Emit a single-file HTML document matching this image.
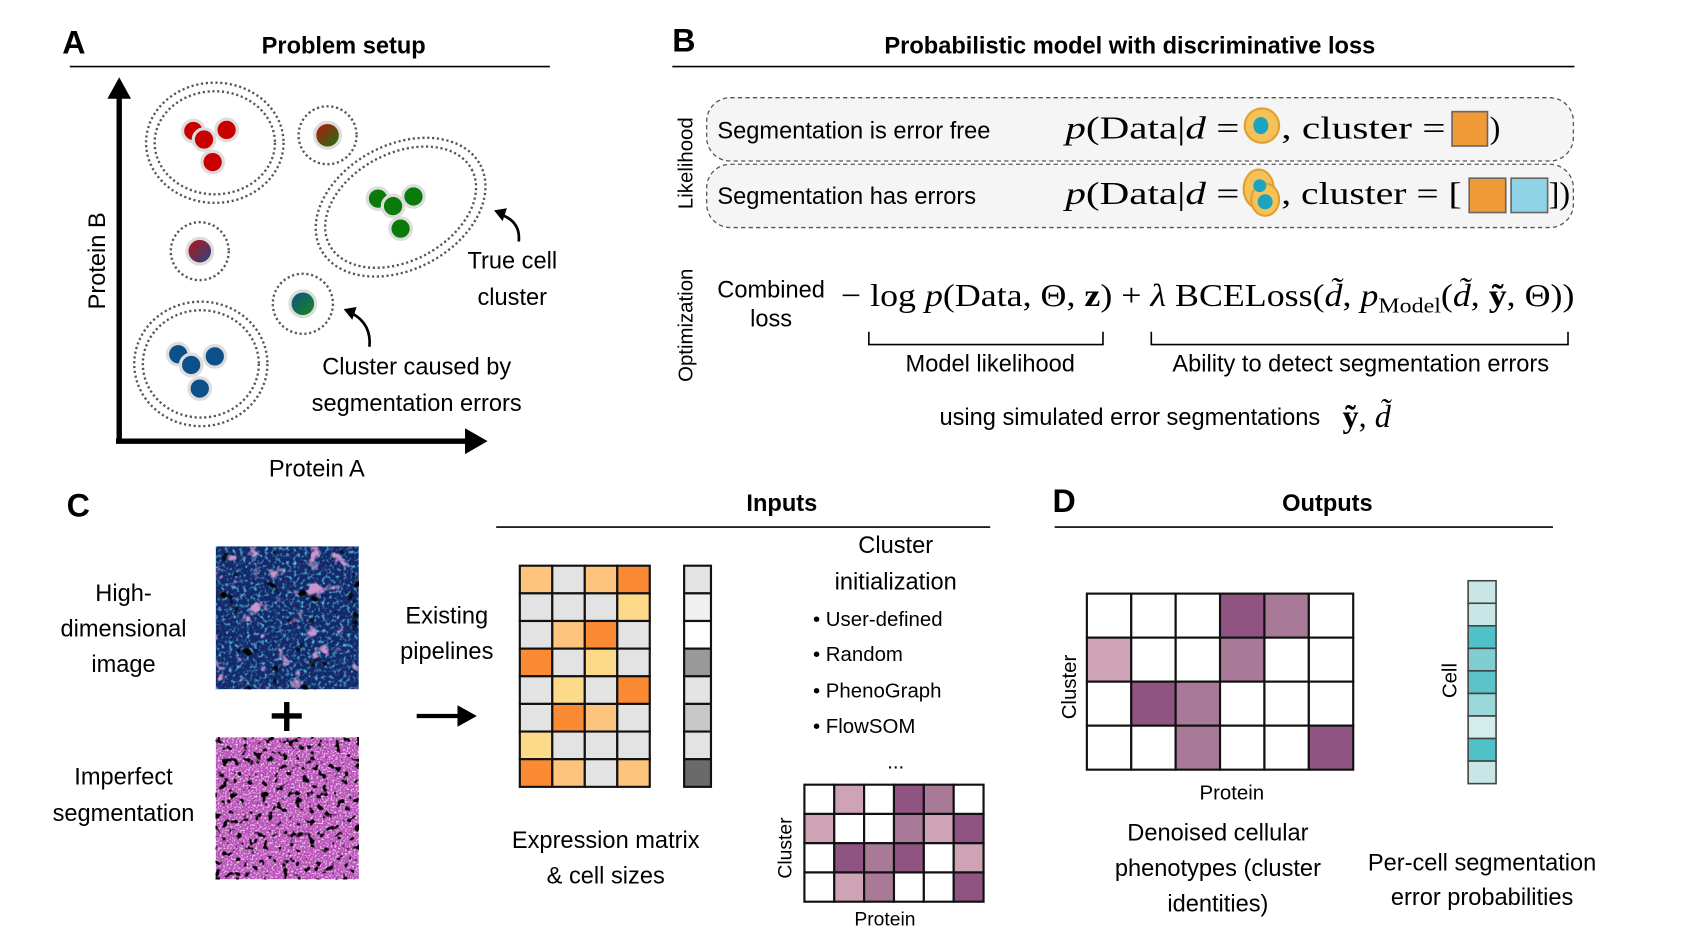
<!DOCTYPE html>
<html><head><meta charset="utf-8"><style>
html,body{margin:0;padding:0;background:#fff;}
svg{display:block;}
text{font-family:"Liberation Sans",sans-serif;fill:#000;}
.t{font-size:22px;}
.b{font-size:22px;font-weight:bold;}
.L{font-size:30px;font-weight:bold;}
.m{font-family:"Liberation Serif",serif;font-size:30px;}
</style></head><body>
<svg width="1684" height="950" viewBox="0 0 1568 885" preserveAspectRatio="none" xmlns="http://www.w3.org/2000/svg">
<defs>
<filter id="blk" x="0" y="0" width="1" height="1">
<feTurbulence type="fractalNoise" baseFrequency="0.16" numOctaves="2" seed="5"/>
<feColorMatrix values="0 0 0 0 0  0 0 0 0 0  0 0 0 0 0  9 0 0 0 -5.3"/>
</filter>
<filter id="spk" x="0" y="0" width="1" height="1">
<feTurbulence type="fractalNoise" baseFrequency="0.6" numOctaves="1" seed="2"/>
<feColorMatrix values="0 0 0 0 1  0 0 0 0 0.85  0 0 0 0 1  3 0 0 0 -1.4"/>
</filter>
<filter id="teal" x="0" y="0" width="1" height="1">
<feTurbulence type="fractalNoise" baseFrequency="0.3" numOctaves="2" seed="9"/>
<feColorMatrix values="0 0 0 0 0.1  0 0 0 0 0.6  0 0 0 0 0.8  3 0 0 0 -1.5"/>
</filter>
<filter id="purp" x="0" y="0" width="1" height="1">
<feTurbulence type="fractalNoise" baseFrequency="0.07" numOctaves="3" seed="13"/>
<feColorMatrix values="0 0 0 0 0.6  0 0 0 0 0.3  0 0 0 0 0.6  0 8 0 0 -5"/>
</filter>
<filter id="blk2" x="0" y="0" width="1" height="1">
<feTurbulence type="fractalNoise" baseFrequency="0.08" numOctaves="2" seed="21"/>
<feColorMatrix values="0 0 0 0 0  0 0 0 0 0  0 0 0 0 0  10 0 0 0 -6.8"/>
</filter>
<linearGradient id="gRG" x1="0" y1="0" x2="1" y2="1"><stop offset="0" stop-color="#c01010"/><stop offset="1" stop-color="#107a10"/></linearGradient>
<linearGradient id="gRB" x1="0" y1="0" x2="1" y2="1"><stop offset="0" stop-color="#c01010"/><stop offset="1" stop-color="#1a4a8a"/></linearGradient>
<linearGradient id="gBG" x1="0" y1="0" x2="1" y2="1"><stop offset="0" stop-color="#0d4f8a"/><stop offset="1" stop-color="#1a8a1a"/></linearGradient>
</defs>

<!-- A -->
<text x="58" y="50" class="L">A</text>
<text x="320" y="50" class="b" text-anchor="middle">Problem setup</text>
<line x1="65" y1="62" x2="512" y2="62" stroke="#000" stroke-width="1.5"/>
<line x1="111" y1="412" x2="111" y2="90" stroke="#000" stroke-width="5"/>
<polygon points="111,72 100,92 122,92" fill="#000"/>
<line x1="108" y1="411" x2="435" y2="411" stroke="#000" stroke-width="5"/>
<polygon points="454,411 433,399 433,423" fill="#000"/>
<text x="98" y="243" class="t" text-anchor="middle" transform="rotate(-90 98 243)">Protein B</text>
<text x="295" y="444" class="t" text-anchor="middle">Protein A</text>
<g fill="none" stroke="#555" stroke-width="2.2" stroke-dasharray="2 2.5">
<ellipse cx="200" cy="133" rx="64" ry="56"/><ellipse cx="200" cy="133" rx="56" ry="48"/>
<ellipse cx="187" cy="339" rx="62" ry="58"/><ellipse cx="187" cy="339" rx="54" ry="50"/>
<ellipse cx="373" cy="193" rx="84" ry="58" transform="rotate(-28 373 193)"/><ellipse cx="373" cy="193" rx="75" ry="50" transform="rotate(-28 373 193)"/>
<circle cx="305" cy="126" r="27"/><circle cx="186" cy="234" r="27"/><circle cx="282" cy="283" r="28"/>
</g>
<g stroke="#ddd" stroke-width="3">
<circle cx="180" cy="122" r="10" fill="#c80000"/><circle cx="211" cy="121" r="10" fill="#c80000"/><circle cx="190" cy="130" r="10" fill="#c80000"/><circle cx="198" cy="151" r="10" fill="#c80000"/>
<circle cx="352" cy="185" r="10" fill="#0a7a0a"/><circle cx="385" cy="183" r="10" fill="#0a7a0a"/><circle cx="366" cy="192" r="10" fill="#0a7a0a"/><circle cx="373" cy="213" r="10" fill="#0a7a0a"/>
<circle cx="166" cy="330" r="10" fill="#0d4f8a"/><circle cx="200" cy="332" r="10" fill="#0d4f8a"/><circle cx="178" cy="340" r="10" fill="#0d4f8a"/><circle cx="186" cy="362" r="10" fill="#0d4f8a"/>
<circle cx="305" cy="126" r="12" fill="url(#gRG)"/><circle cx="186" cy="234" r="12" fill="url(#gRB)"/><circle cx="282" cy="283" r="12" fill="url(#gBG)"/>
</g>
<path d="M483,225 Q485,207 467,200" fill="none" stroke="#000" stroke-width="2.5"/><polygon points="460,196 472,194 468,206" fill="#000"/>
<path d="M344,323 Q346,302 328,292" fill="none" stroke="#000" stroke-width="2.5"/><polygon points="320,288 332,286 328,298" fill="#000"/>
<text x="477" y="250" class="t" text-anchor="middle">True cell</text>
<text x="477" y="284" class="t" text-anchor="middle">cluster</text>
<text x="388" y="349" class="t" text-anchor="middle">Cluster caused by</text>
<text x="388" y="383" class="t" text-anchor="middle">segmentation errors</text>

<!-- B -->
<text x="626" y="48" class="L">B</text>
<text x="1052" y="50" class="b" text-anchor="middle">Probabilistic model with discriminative loss</text>
<line x1="626" y1="62" x2="1466" y2="62" stroke="#000" stroke-width="1.5"/>
<rect x="658" y="91" width="807" height="59" rx="22" fill="#f5f5f5" stroke="#555" stroke-width="1.2" stroke-dasharray="4 3"/>
<rect x="658" y="153" width="807" height="59" rx="22" fill="#f5f5f5" stroke="#555" stroke-width="1.2" stroke-dasharray="4 3"/>
<text x="645" y="152" class="t" text-anchor="middle" transform="rotate(-90 645 152)" style="font-size:19px">Likelihood</text>
<text x="645" y="303" class="t" text-anchor="middle" transform="rotate(-90 645 303)" style="font-size:19px">Optimization</text>
<text x="668" y="129" class="t">Segmentation is error free</text>
<text x="668" y="190" class="t">Segmentation has errors</text>
<text x="992" y="129" class="m" textLength="162" lengthAdjust="spacingAndGlyphs"><tspan font-style="italic">p</tspan>(Data|<tspan font-style="italic">d</tspan> =</text>
<circle cx="1175" cy="117" r="16" fill="#f5c25a" stroke="#e0a030" stroke-width="2"/><ellipse cx="1174" cy="117" rx="7" ry="8" fill="#1aa4c0"/>
<text x="1193" y="129" class="m" textLength="153" lengthAdjust="spacingAndGlyphs">,  cluster =</text>
<rect x="1352" y="104" width="33" height="32" fill="#f19a38" stroke="#666" stroke-width="1.5"/>
<text x="1387" y="129" class="m">)</text>
<text x="992" y="190" class="m" textLength="162" lengthAdjust="spacingAndGlyphs"><tspan font-style="italic">p</tspan>(Data|<tspan font-style="italic">d</tspan> =</text>
<ellipse cx="1172" cy="176" rx="14" ry="18" fill="#f5c25a" stroke="#e0a030" stroke-width="2"/><ellipse cx="1178" cy="186" rx="13" ry="15" fill="#f5c25a" stroke="#e0a030" stroke-width="2"/>
<circle cx="1173" cy="173" r="6" fill="#1aa4c0"/><circle cx="1178" cy="188" r="7" fill="#1aa4c0"/>
<text x="1193" y="190" class="m" textLength="168" lengthAdjust="spacingAndGlyphs">,  cluster = [</text>
<rect x="1368" y="166" width="34" height="32" fill="#f19a38" stroke="#666" stroke-width="1.5"/>
<rect x="1407" y="166" width="34" height="32" fill="#8fd3e6" stroke="#666" stroke-width="1.5"/>
<text x="1442" y="190" class="m" textLength="20" lengthAdjust="spacingAndGlyphs">])</text>
<text x="718" y="277" class="t" text-anchor="middle">Combined</text>
<text x="718" y="304" class="t" text-anchor="middle">loss</text>
<text x="783" y="285" class="m" textLength="683" lengthAdjust="spacingAndGlyphs">− log <tspan font-style="italic">p</tspan>(Data, Θ, <tspan font-weight="bold">z</tspan>) + <tspan font-style="italic">λ</tspan> BCELoss(<tspan font-style="italic">d̃</tspan>, <tspan font-style="italic">p</tspan><tspan font-size="20" dy="6">Model</tspan><tspan dy="-6">(</tspan><tspan font-style="italic">d̃</tspan>, <tspan font-weight="bold">ỹ</tspan>, Θ))</text>
<path d="M809,309 V321 H1027 V309 M1072,309 V321 H1460 V309" fill="none" stroke="#000" stroke-width="1.5"/>
<text x="922" y="346" class="t" text-anchor="middle">Model likelihood</text>
<text x="1267" y="346" class="t" text-anchor="middle">Ability to detect segmentation errors</text>
<text x="1052" y="396" class="t" text-anchor="middle">using simulated error segmentations</text>
<text x="1250" y="398" class="m"><tspan font-weight="bold">ỹ</tspan>, <tspan font-style="italic">d̃</tspan></text>

<!-- C -->
<text x="62" y="481" class="L">C</text>
<text x="728" y="476" class="b" text-anchor="middle">Inputs</text>
<line x1="462" y1="491" x2="922" y2="491" stroke="#000" stroke-width="1.5"/>
<text x="115" y="560" class="t" text-anchor="middle">High-</text>
<text x="115" y="593" class="t" text-anchor="middle">dimensional</text>
<text x="115" y="626" class="t" text-anchor="middle">image</text>
<text x="115" y="731" class="t" text-anchor="middle">Imperfect</text>
<text x="115" y="765" class="t" text-anchor="middle">segmentation</text>
<rect x="201" y="509" width="133" height="133" fill="#14286a"/>
<rect x="201" y="509" width="133" height="133" filter="url(#teal)"/>
<rect x="201" y="509" width="133" height="133" filter="url(#purp)"/>
<rect x="201" y="509" width="133" height="133" filter="url(#blk2)"/>
<rect x="201" y="687" width="133" height="132" fill="#b850b8"/>
<rect x="201" y="687" width="133" height="132" filter="url(#spk)"/>
<rect x="201" y="687" width="133" height="132" filter="url(#blk)"/>
<path d="M267,654 V681 M253,667 H281" stroke="#000" stroke-width="5"/>
<text x="416" y="581" class="t" text-anchor="middle">Existing</text>
<text x="416" y="614" class="t" text-anchor="middle">pipelines</text>
<line x1="388" y1="667" x2="428" y2="667" stroke="#000" stroke-width="4"/><polygon points="444,667 426,657 426,677" fill="#000"/>
<g stroke="#111" stroke-width="2">
<rect x="484" y="527" width="30.25" height="25.75" fill="#fcc47c"/><rect x="514.25" y="527" width="30.25" height="25.75" fill="#e3e3e3"/><rect x="544.5" y="527" width="30.25" height="25.75" fill="#fcc47c"/><rect x="574.75" y="527" width="30.25" height="25.75" fill="#fb8a35"/>
<rect x="484" y="552.75" width="30.25" height="25.75" fill="#e3e3e3"/><rect x="514.25" y="552.75" width="30.25" height="25.75" fill="#e3e3e3"/><rect x="544.5" y="552.75" width="30.25" height="25.75" fill="#e3e3e3"/><rect x="574.75" y="552.75" width="30.25" height="25.75" fill="#fdd98a"/>
<rect x="484" y="578.5" width="30.25" height="25.75" fill="#e3e3e3"/><rect x="514.25" y="578.5" width="30.25" height="25.75" fill="#fcc47c"/><rect x="544.5" y="578.5" width="30.25" height="25.75" fill="#fb8a35"/><rect x="574.75" y="578.5" width="30.25" height="25.75" fill="#e3e3e3"/>
<rect x="484" y="604.25" width="30.25" height="25.75" fill="#fb8a35"/><rect x="514.25" y="604.25" width="30.25" height="25.75" fill="#e3e3e3"/><rect x="544.5" y="604.25" width="30.25" height="25.75" fill="#fdd98a"/><rect x="574.75" y="604.25" width="30.25" height="25.75" fill="#e3e3e3"/>
<rect x="484" y="630" width="30.25" height="25.75" fill="#e3e3e3"/><rect x="514.25" y="630" width="30.25" height="25.75" fill="#fdd98a"/><rect x="544.5" y="630" width="30.25" height="25.75" fill="#e3e3e3"/><rect x="574.75" y="630" width="30.25" height="25.75" fill="#fb8a35"/>
<rect x="484" y="655.75" width="30.25" height="25.75" fill="#e3e3e3"/><rect x="514.25" y="655.75" width="30.25" height="25.75" fill="#fb8a35"/><rect x="544.5" y="655.75" width="30.25" height="25.75" fill="#fcc47c"/><rect x="574.75" y="655.75" width="30.25" height="25.75" fill="#e3e3e3"/>
<rect x="484" y="681.5" width="30.25" height="25.75" fill="#fdd98a"/><rect x="514.25" y="681.5" width="30.25" height="25.75" fill="#e3e3e3"/><rect x="544.5" y="681.5" width="30.25" height="25.75" fill="#e3e3e3"/><rect x="574.75" y="681.5" width="30.25" height="25.75" fill="#e3e3e3"/>
<rect x="484" y="707.25" width="30.25" height="25.75" fill="#fb8a35"/><rect x="514.25" y="707.25" width="30.25" height="25.75" fill="#fcc47c"/><rect x="544.5" y="707.25" width="30.25" height="25.75" fill="#e3e3e3"/><rect x="574.75" y="707.25" width="30.25" height="25.75" fill="#fcc47c"/>
<rect x="637" y="527" width="25" height="25.75" fill="#e3e3e3"/><rect x="637" y="552.75" width="25" height="25.75" fill="#f0f0f0"/><rect x="637" y="578.5" width="25" height="25.75" fill="#fff"/><rect x="637" y="604.25" width="25" height="25.75" fill="#999"/>
<rect x="637" y="630" width="25" height="25.75" fill="#e3e3e3"/><rect x="637" y="655.75" width="25" height="25.75" fill="#c8c8c8"/><rect x="637" y="681.5" width="25" height="25.75" fill="#e3e3e3"/><rect x="637" y="707.25" width="25" height="25.75" fill="#6a6a6a"/>
</g>
<text x="564" y="790" class="t" text-anchor="middle">Expression matrix</text>
<text x="564" y="823" class="t" text-anchor="middle">&amp; cell sizes</text>
<text x="834" y="515" class="t" text-anchor="middle">Cluster</text>
<text x="834" y="549" class="t" text-anchor="middle">initialization</text>
<text x="757" y="583" class="t" style="font-size:19px">• User-defined</text>
<text x="757" y="616" class="t" style="font-size:19px">• Random</text>
<text x="757" y="650" class="t" style="font-size:19px">• PhenoGraph</text>
<text x="757" y="683" class="t" style="font-size:19px">• FlowSOM</text>
<text x="834" y="716" class="t" text-anchor="middle" style="font-size:19px">...</text>
<g stroke="#111" stroke-width="2">
<rect x="749" y="731" width="27.8" height="27.25" fill="#fff"/><rect x="776.8" y="731" width="27.8" height="27.25" fill="#cda3b5"/><rect x="804.6" y="731" width="27.8" height="27.25" fill="#fff"/><rect x="832.4" y="731" width="27.8" height="27.25" fill="#8f5482"/><rect x="860.2" y="731" width="27.8" height="27.25" fill="#a87a97"/><rect x="888" y="731" width="27.8" height="27.25" fill="#fff"/>
<rect x="749" y="758.25" width="27.8" height="27.25" fill="#cda3b5"/><rect x="776.8" y="758.25" width="27.8" height="27.25" fill="#fff"/><rect x="804.6" y="758.25" width="27.8" height="27.25" fill="#fff"/><rect x="832.4" y="758.25" width="27.8" height="27.25" fill="#a87a97"/><rect x="860.2" y="758.25" width="27.8" height="27.25" fill="#cda3b5"/><rect x="888" y="758.25" width="27.8" height="27.25" fill="#8f5482"/>
<rect x="749" y="785.5" width="27.8" height="27.25" fill="#fff"/><rect x="776.8" y="785.5" width="27.8" height="27.25" fill="#8f5482"/><rect x="804.6" y="785.5" width="27.8" height="27.25" fill="#a87a97"/><rect x="832.4" y="785.5" width="27.8" height="27.25" fill="#8f5482"/><rect x="860.2" y="785.5" width="27.8" height="27.25" fill="#fff"/><rect x="888" y="785.5" width="27.8" height="27.25" fill="#cda3b5"/>
<rect x="749" y="812.75" width="27.8" height="27.25" fill="#fff"/><rect x="776.8" y="812.75" width="27.8" height="27.25" fill="#cda3b5"/><rect x="804.6" y="812.75" width="27.8" height="27.25" fill="#a87a97"/><rect x="832.4" y="812.75" width="27.8" height="27.25" fill="#fff"/><rect x="860.2" y="812.75" width="27.8" height="27.25" fill="#fff"/><rect x="888" y="812.75" width="27.8" height="27.25" fill="#8f5482"/>
</g>
<text x="737" y="790" class="t" text-anchor="middle" transform="rotate(-90 737 790)" style="font-size:18px">Cluster</text>
<text x="824" y="862" class="t" text-anchor="middle" style="font-size:18px">Protein</text>

<!-- D -->
<text x="980" y="477" class="L">D</text>
<text x="1236" y="476" class="b" text-anchor="middle">Outputs</text>
<line x1="982" y1="491" x2="1446" y2="491" stroke="#000" stroke-width="1.5"/>
<g stroke="#111" stroke-width="2">
<rect x="1012" y="553" width="41.33" height="41" fill="#fff"/><rect x="1053.33" y="553" width="41.33" height="41" fill="#fff"/><rect x="1094.67" y="553" width="41.33" height="41" fill="#fff"/><rect x="1136" y="553" width="41.33" height="41" fill="#8f5482"/><rect x="1177.33" y="553" width="41.33" height="41" fill="#a87a97"/><rect x="1218.67" y="553" width="41.33" height="41" fill="#fff"/>
<rect x="1012" y="594" width="41.33" height="41" fill="#cda3b5"/><rect x="1053.33" y="594" width="41.33" height="41" fill="#fff"/><rect x="1094.67" y="594" width="41.33" height="41" fill="#fff"/><rect x="1136" y="594" width="41.33" height="41" fill="#a87a97"/><rect x="1177.33" y="594" width="41.33" height="41" fill="#fff"/><rect x="1218.67" y="594" width="41.33" height="41" fill="#fff"/>
<rect x="1012" y="635" width="41.33" height="41" fill="#fff"/><rect x="1053.33" y="635" width="41.33" height="41" fill="#8f5482"/><rect x="1094.67" y="635" width="41.33" height="41" fill="#a87a97"/><rect x="1136" y="635" width="41.33" height="41" fill="#fff"/><rect x="1177.33" y="635" width="41.33" height="41" fill="#fff"/><rect x="1218.67" y="635" width="41.33" height="41" fill="#fff"/>
<rect x="1012" y="676" width="41.33" height="41" fill="#fff"/><rect x="1053.33" y="676" width="41.33" height="41" fill="#fff"/><rect x="1094.67" y="676" width="41.33" height="41" fill="#a87a97"/><rect x="1136" y="676" width="41.33" height="41" fill="#fff"/><rect x="1177.33" y="676" width="41.33" height="41" fill="#fff"/><rect x="1218.67" y="676" width="41.33" height="41" fill="#8f5482"/>
</g>
<g stroke="#444" stroke-width="1.5">
<rect x="1367" y="541" width="26" height="21" fill="#c8e6e6"/><rect x="1367" y="562" width="26" height="21" fill="#c8e6e6"/><rect x="1367" y="583" width="26" height="21" fill="#4fc1c8"/><rect x="1367" y="604" width="26" height="21" fill="#7fcfd2"/><rect x="1367" y="625" width="26" height="21" fill="#5cc4c8"/><rect x="1367" y="646" width="26" height="21" fill="#9ad8da"/><rect x="1367" y="667" width="26" height="21" fill="#d3ecec"/><rect x="1367" y="688" width="26" height="21" fill="#4fc1c8"/><rect x="1367" y="709" width="26" height="21" fill="#c8e6e6"/>
</g>
<text x="1002" y="640" class="t" text-anchor="middle" transform="rotate(-90 1002 640)" style="font-size:19px">Cluster</text>
<text x="1356" y="634" class="t" text-anchor="middle" transform="rotate(-90 1356 634)" style="font-size:19px">Cell</text>
<text x="1147" y="745" class="t" text-anchor="middle" style="font-size:19px">Protein</text>
<text x="1134" y="783" class="t" text-anchor="middle">Denoised cellular</text>
<text x="1134" y="816" class="t" text-anchor="middle">phenotypes (cluster</text>
<text x="1134" y="849" class="t" text-anchor="middle">identities)</text>
<text x="1380" y="811" class="t" text-anchor="middle">Per-cell segmentation</text>
<text x="1380" y="843" class="t" text-anchor="middle">error probabilities</text>
</svg>
</body></html>
